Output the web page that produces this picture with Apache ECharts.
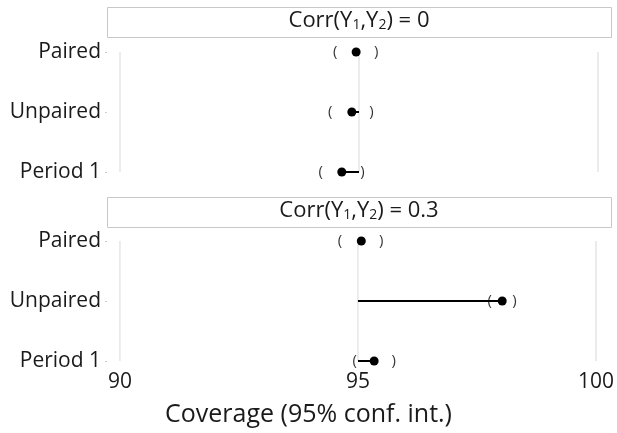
<!DOCTYPE html>
<html lang="en">
<head>
<meta charset="UTF-8">
<title>Coverage</title>
<script src="https://cdn.jsdelivr.net/npm/echarts@6/dist/echarts.min.js"></script>
<style>
  html, body { margin: 0; padding: 0; background: #fff; }
</style>
</head>
<body>
<div id="main" style="width:617px;height:433px;"></div>
<script>
// data
var methods = ['Paired', 'Unpaired', 'Period 1'];
var panels = ['0', '0.3'];
var est0 = [94.94, 94.85, 94.64];
var lo0 = [94.50, 94.40, 94.20];
var hi0 = [95.36, 95.26, 95.07];
var est3 = [95.07, 98.03, 95.34];
var lo3 = [94.62, 97.77, 94.93];
var hi3 = [95.49, 98.29, 95.75];
var xTicks = [90, 95, 100];
var nominal = 95;

var FONT = 'Open Sans';
var INK = '#1a1a1a';
var gridColor = '#d9d9d9';

var chart = echarts.init(document.getElementById('main'));

function pairs(vals) {
  return vals.map(function (v, i) { return [v, methods[i]]; });
}

function panelSeries(idx, est, lo, hi) {
  var s = [];
  // gridlines at 90, 95, 100 between first and last row
  s.push({
    type: 'custom', xAxisIndex: idx, yAxisIndex: idx, silent: true, z: 1,
    data: xTicks.map(function (t) { return [t]; }),
    renderItem: function (params, api) {
      var a = api.coord([api.value(0), methods[0]]);
      var b = api.coord([api.value(0), methods[methods.length - 1]]);
      return { type: 'line', shape: { x1: a[0], y1: a[1], x2: b[0], y2: b[1] },
        style: { stroke: gridColor, lineWidth: 1 } };
    }
  });
  // segment from nominal 95 to estimate
  s.push({
    type: 'custom', xAxisIndex: idx, yAxisIndex: idx, silent: true, z: 2,
    data: pairs(est),
    renderItem: function (params, api) {
      var a = api.coord([nominal, api.value(1)]);
      var b = api.coord([api.value(0), api.value(1)]);
      return { type: 'line', shape: { x1: a[0], y1: a[1], x2: b[0], y2: b[1] },
        style: { stroke: '#000', lineWidth: 2 } };
    }
  });
  s.push({
    type: 'scatter', xAxisIndex: idx, yAxisIndex: idx, silent: true, z: 3,
    symbol: 'circle', symbolSize: 9, itemStyle: { color: '#000', opacity: 1 },
    data: pairs(est)
  });
  [[lo, '('], [hi, ')']].forEach(function (p) {
    s.push({
      type: 'scatter', xAxisIndex: idx, yAxisIndex: idx, silent: true, z: 4,
      symbolSize: 0,
      label: { show: true, position: 'inside', formatter: p[1],
        color: '#000', fontFamily: FONT, fontSize: 15 },
      data: pairs(p[0])
    });
  });
  return s;
}

var tops = [52, 241];
var heads = [7, 197];

var rich = {
  a: { fontFamily: FONT, fontSize: 22, fontWeight: 'normal', color: INK, lineHeight: 26 },
  s: { fontFamily: FONT, fontSize: 14, fontWeight: 'normal', color: INK, lineHeight: 26, padding: [8, 0, 0, 0] }
};

chart.setOption({
  animation: false,
  textStyle: { fontFamily: FONT },
  title: panels.map(function (v, i) {
    return {
      text: '{a|Corr(Y}{s|1}{a|,Y}{s|2}{a|) = ' + v + '}',
      left: 359, top: heads[i] + 1, textAlign: 'center', padding: 0,
      textStyle: { rich: rich, fontWeight: 'normal' }
    };
  }).concat([{
    text: 'Coverage (95% conf. int.)', left: 'center', top: 402, padding: 0,
    textStyle: { fontFamily: FONT, fontSize: 25, fontWeight: 'normal', color: INK }
  }]),
  graphic: heads.map(function (y) {
    return { type: 'rect', left: 107, top: y, z: -1,
      shape: { width: 504, height: 30 },
      style: { fill: '#fff', stroke: '#c8c8c8', lineWidth: 1 } };
  }),
  grid: tops.map(function (t) {
    return { left: 107, right: 6, top: t, height: 120 };
  }),
  xAxis: tops.map(function (t, i) {
    return {
      type: 'value', gridIndex: i, min: 89.728, max: 100.272,
      show: i === 1,
      axisLine: { show: false }, axisTick: { show: false },
      splitLine: { show: false },
      axisLabel: { customValues: xTicks, fontFamily: FONT, fontSize: 21, color: INK, margin: 11 }
    };
  }),
  yAxis: tops.map(function (t, i) {
    return {
      type: 'category', gridIndex: i, data: methods, inverse: true, boundaryGap: false,
      axisLine: { show: false },
      axisTick: { show: true, length: 2, lineStyle: { color: '#cccccc' } },
      splitLine: { show: false },
      axisLabel: { fontFamily: FONT, fontSize: 21, color: INK, margin: 6 }
    };
  }),
  series: panelSeries(0, est0, lo0, hi0).concat(panelSeries(1, est3, lo3, hi3))
});
</script>
</body>
</html>
